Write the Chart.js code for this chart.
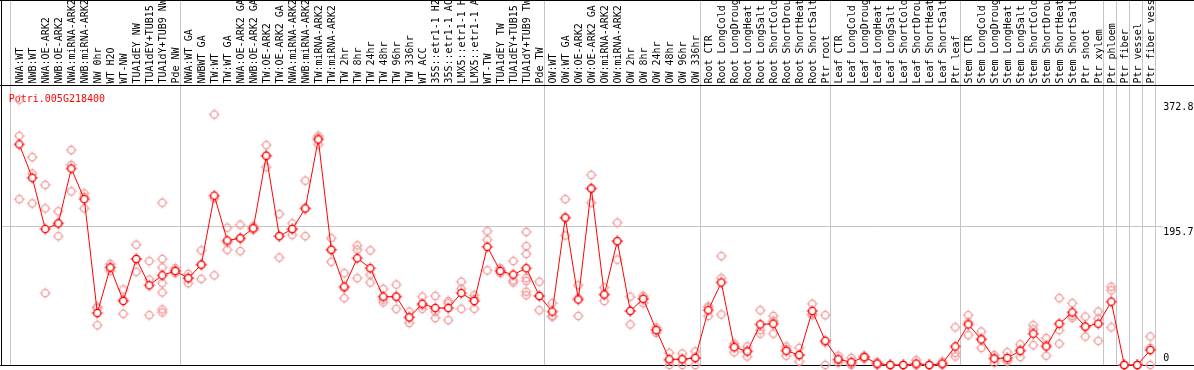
<!DOCTYPE html>
<html><head><meta charset="utf-8">
<script src="https://cdn.jsdelivr.net/npm/chart.js@4.4.0/dist/chart.umd.min.js"></script>
<style>html,body{margin:0;padding:0;background:#fff;overflow:hidden}#wrap{width:1194px;height:370px;position:relative}</style>
</head><body><div id="wrap"><canvas id="c" width="1194" height="370"></canvas></div>
<script>
const chartTitle = "Potri.005G218400";
const categories = [
"NWA:WT","NWB:WT","NWA:OE-ARK2","NWB:OE-ARK2","NWA:miRNA-ARK2","NWB:miRNA-ARK2","NW 0hr","WT H2O","WT-NW","TUA1dEY NW","TUA1dEY+TUB15","TUA1dY+TUB9 NW","Pde NW",
"NWA:WT GA","NWBWT GA","TW:WT","TW:WT GA","NWA:OE-ARK2 GA","NWB:OE-ARK2 GA","TW:OE-ARK2","TW:OE-ARK2 GA","NWA:miRNA-ARK2","NWB:miRNA-ARK2","TW:miRNA-ARK2","TW:miRNA-ARK2","TW 2hr","TW 8hr","TW 24hr","TW 48hr","TW 96hr","TW 336hr","WT ACC","35S::etr1-1 H2","35S::etr1-1 AC","LMX5::etr1-1 H","LMX5::etr1-1 A","WT-TW","TUA1dEY TW","TUA1dEY+TUB15","TUA1dY+TUB9 TW","Pde TW",
"OW:WT","OW:WT GA","OW:OE-ARK2","OW:OE-ARK2 GA","OW:miRNA-ARK2","OW:miRNA-ARK2","OW 2hr","OW 8hr","OW 24hr","OW 48hr","OW 96hr","OW 336hr",
"Root CTR","Root LongCold","Root LongDroug","Root LongHeat","Root LongSalt","Root ShortCold","Root ShortDrou","Root ShortHeat","Root ShortSalt","Ptr root",
"Leaf CTR","Leaf LongCold","Leaf LongDroug","Leaf LongHeat","Leaf LongSalt","Leaf ShortCold","Leaf ShortDrou","Leaf ShortHeat","Leaf ShortSalt","Ptr leaf",
"Stem CTR","Stem LongCold","Stem LongDroug","Stem LongHeat","Stem LongSalt","Stem ShortCold","Stem ShortDrou","Stem ShortHeat","Stem ShortSalt","Ptr shoot","Ptr xylem",
"Ptr phloem","Ptr fiber","Ptr vessel","Ptr fiber vess"];

const meanValues = [
310,263,191,199,276,233,73,137,90,149,112,126,132,
122,141,238,175,178,192,294,181,191,220,317,162,110,150,136,96,96,67,86,80,80,101,90,166,132,127,136,97,
75,207,92,248,99,174,76,93,49,8,8,10,
77,116,25,19,57,58,20,14,76,34,
8,4,11,2,0,0,2,0,2,26,
57,36,9,10,20,44,26,58,74,54,58,
89,0,0,21];

const replicateValues = [
[372.8,322,233],[292,269,227],[253,220,101],[216,199,181],[302,281,244],[241,236,220],[82,80,56],[142,137,132],[106,92,72],[169,149,131],[146,120,70],[228,149,137,115,102,78,74],[136,133,129],
[128,122,115],[161,141,121],[352,234,126],[193,172,162],[197,178,160],[195,193,190],[309,294,278],[212,181,151],[199,191,183],[259,220,181],[322,319,310],[178,162,145],[129,108,94],[168,162,122],[161,127,116],[107,92,88],[113,96,79],[75,67,59],[96,84,79],[97,75,66],[90,87,63],[117,107,79],[98,93,79],[188,176,133],[136,133,129],[146,119,116],[187,167,156,122,118,103,98],[117,97,77],
[87,69,68],[233,207,182],[112,94,69],[267,248,228],[109,99,90],[200,174,148],[96,76,57],[97,93,87],[53,49,45],[17,6,0],[16,8,0],[19,10,0],
[82,81,69],[153,122,71],[30,27,18],[26,20,12],[77,49,44],[69,62,44],[26,22,13],[24,14,5],[86,72,70],[70,32,0],
[13,7,3],[10,2,0],[13,11,9],[4,1,0],[0,0,0],[0,0,0],[7,0,0],[0,0,0],[5,1,0],[53,17,12],
[70,60,42],[47,37,24],[14,10,3],[18,7,5],[29,21,11],[56,50,28],[38,28,13],[94,49,30],[87,69,66],[68,54,40],[75,65,34],
[110,105,53],[0,0,0],[0,0,0],[40,24,0]];

const yTickValues = [0, 195.7, 372.8];
const yAxisMax = 393.4;
const groupLastIndex = [12, 40, 52, 62, 72, 83, 84, 85, 86, 87];

const FONT = '10px "DejaVu Sans Mono", monospace';
const RED = '#ff0000';
const PALE = '#f09a9a';
const GRAY = '#c4c4c4';

function makeMarker(stroke, fill) {
  const c = document.createElement('canvas');
  c.width = 14; c.height = 14;
  const g = c.getContext('2d');
  g.strokeStyle = stroke;
  g.lineWidth = 1.3;
  g.beginPath();
  g.arc(7, 7, 3.6, 0, Math.PI * 2);
  if (fill) { g.fillStyle = fill; g.fill(); }
  g.stroke();
  g.lineWidth = 1;
  g.beginPath();
  g.moveTo(7, 1.4); g.lineTo(7, 3.4);
  g.moveTo(7, 10.6); g.lineTo(7, 12.6);
  g.moveTo(1.4, 7); g.lineTo(3.4, 7);
  g.moveTo(10.6, 7); g.lineTo(12.6, 7);
  g.stroke();
  return c;
}
const meanMarker = makeMarker(RED, '#ffffff');
const repMarker = makeMarker(PALE, null);

const meanPoints = meanValues.map((v, i) => ({ x: i, y: v }));
const repPoints = [];
replicateValues.forEach((arr, i) => arr.forEach(v => repPoints.push({ x: i, y: v })));

const framePlugin = {
  id: 'frame',
  beforeDatasetsDraw(chart) {
    const { ctx, chartArea: a, scales: { x, y } } = chart;
    const W = chart.width;
    const step = x.getPixelForValue(1) - x.getPixelForValue(0);
    const frameLeft = Math.round(x.getPixelForValue(0) - step * 1.4);
    ctx.save();
    // separators
    ctx.strokeStyle = GRAY; ctx.lineWidth = 1;
    ctx.beginPath();
    const seps = [x.getPixelForValue(0) - step * 0.7].concat(groupLastIndex.map(i => x.getPixelForValue(i) + step * 0.37));
    seps.forEach(px => {
      const sx = Math.round(px) + 0.5;
      ctx.moveTo(sx, 0); ctx.lineTo(sx, a.bottom);
    });
    // horizontal grid at middle tick
    const gy = Math.round(y.getPixelForValue(yTickValues[1])) + 0.5;
    ctx.moveTo(frameLeft, gy); ctx.lineTo(a.right + 6, gy);
    ctx.stroke();
    // black frame
    ctx.fillStyle = '#000';
    ctx.fillRect(0, 0, W, 1);
    ctx.fillRect(0, Math.round(a.top), W, 1);
    ctx.fillRect(0, Math.round(a.bottom), W, 1);
    ctx.fillRect(frameLeft, 0, 1, Math.round(a.bottom) + 1);
    // category labels (rotated)
    ctx.save();
    ctx.beginPath();
    ctx.rect(0, 1, W, Math.round(a.top) - 1);
    ctx.clip();
    ctx.font = FONT;
    ctx.fillStyle = '#000';
    ctx.textAlign = 'left';
    ctx.textBaseline = 'alphabetic';
    categories.forEach((lab, i) => {
      ctx.save();
      ctx.translate(x.getPixelForValue(i) + 3.6, a.top - 1.5);
      ctx.rotate(-Math.PI / 2);
      ctx.fillText(lab, 0, 0);
      ctx.restore();
    });
    ctx.restore();
    // title
    ctx.font = FONT;
    ctx.fillStyle = RED;
    ctx.textAlign = 'left';
    ctx.textBaseline = 'alphabetic';
    ctx.fillText(chartTitle, frameLeft + 7.7, a.top + 16.5);
    // y tick labels
    ctx.fillStyle = '#000';
    yTickValues.forEach((v, k) => {
      const py = y.getPixelForValue(v);
      const by = (k === 0) ? py - 3.7 : py + (k === yTickValues.length - 1 ? 10.8 : 9);
      ctx.fillText(String(v), a.right + 6.5, by);
    });
    ctx.restore();
  }
};

new Chart(document.getElementById('c'), {
  type: 'line',
  data: {
    datasets: [
      { type: 'line', data: meanPoints, borderColor: RED, borderWidth: 1, tension: 0,
        pointStyle: meanMarker, pointRadius: 4, order: 0, clip: false },
      { type: 'scatter', data: repPoints, pointStyle: repMarker, pointRadius: 4, order: 1, clip: false, showLine: false }
    ]
  },
  options: {
    responsive: false,
    animation: false,
    events: [],
    layout: { padding: { left: 12.8, right: 37.2, top: 85, bottom: 1 } },
    plugins: { legend: { display: false }, tooltip: { enabled: false }, title: { display: false } },
    scales: {
      x: { type: 'linear', min: -0.5, max: categories.length - 0.5, display: false },
      y: { type: 'linear', min: 0, max: yAxisMax, display: false }
    }
  },
  plugins: [framePlugin]
});
</script>
</body></html>
